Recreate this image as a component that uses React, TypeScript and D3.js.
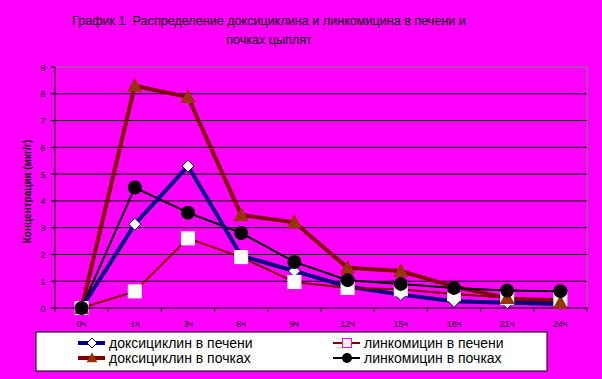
import React from "react";
import * as d3 from "d3";

const categories = ["0ч", "1ч", "3ч", "6ч", "9ч", "12ч", "15ч", "18ч", "21ч", "24ч"];
const doxyLiver = [0, 3.13, 5.3, 1.95, 1.38, 0.8, 0.5, 0.25, 0.2, 0.15];
const doxyKidney = [0, 8.3, 7.88, 3.47, 3.2, 1.5, 1.38, 0.8, 0.37, 0.2];
const lincoLiver = [0, 0.62, 2.6, 1.9, 0.97, 0.75, 0.7, 0.52, 0.38, 0.33];
const lincoKidney = [0, 4.5, 3.56, 2.8, 1.72, 1.04, 0.9, 0.75, 0.65, 0.63];
const yTicks = [0, 1, 2, 3, 4, 5, 6, 7, 8, 9];
const titleLines = ["График 1  Распределение доксициклина и линкомицина в печени и", "почках цыплят"];
const yTitle = "Концентрация (мкг/г)";
const legendNames = ["доксициклин в печени", "линкомицин в печени", "доксициклин в почках", "линкомицин в почках"];

export default function App() {
  const W = 602, H = 379;
  const left = 55, right = 587, top = 67, bottom = 308;
  const x = d3.scaleBand().domain(categories).range([left, right]);
  const y = d3.scaleLinear().domain([0, 9]).range([bottom, top]);
  const cx = (c: string) => (x(c) as number) + x.bandwidth() / 2;
  const line = (vals: number[]) =>
    d3.line<number>().x((_, i) => cx(categories[i])).y((v) => y(v))(vals) as string;
  const font = "Arial, 'Liberation Sans', sans-serif";

  const diamond = (px: number, py: number, key: string, s = 6) => (
    <path key={key} d={`M${px},${py - s}L${px + s},${py}L${px},${py + s}L${px - s},${py}Z`} fill="#fff" stroke="#000080" strokeWidth={1} />
  );
  const square = (px: number, py: number, key: string, stroke = "#fff", s = 6.5) => (
    <rect key={key} x={px - s} y={py - s} width={2 * s} height={2 * s} fill="#fff" stroke={stroke} strokeWidth={1} />
  );
  const triangle = (px: number, py: number, key: string, s = 1) => (
    <path key={key} d={`M${px},${py - 8 * s}L${px + 7.5 * s},${py + 6 * s}L${px - 7.5 * s},${py + 6 * s}Z`} fill="#993300" />
  );
  const circle = (px: number, py: number, key: string, r = 7) => (
    <circle key={key} cx={px} cy={py} r={r} fill="#000" />
  );

  return (
    <svg width={W} height={H} style={{ position: "absolute", left: 0, top: 0, display: "block" }}>
      <rect x={0} y={0} width={W} height={H} fill="#ff00ff" />
      {titleLines.map((t, i) => (
        <text key={t} x={269} y={25 + i * 19} textAnchor="middle" fontFamily={font} fontSize={12.6} fill="#000" style={{ whiteSpace: "pre" }}>{t}</text>
      ))}
      {/* gridlines */}
      {yTicks.slice(1).map((t) => (
        <line key={t} x1={left} x2={right} y1={y(t)} y2={y(t)} stroke={t === 9 ? "#808080" : "#000"} strokeWidth={1} />
      ))}
      <line x1={right} x2={right} y1={top} y2={bottom} stroke="#808080" />
      {/* axes */}
      <line x1={left} x2={left} y1={top} y2={bottom} stroke="#000" />
      <line x1={left} x2={right} y1={bottom} y2={bottom} stroke="#000" />
      {yTicks.map((t) => (
        <g key={t}>
          <line x1={left - 4} x2={left} y1={y(t)} y2={y(t)} stroke="#000" />
          <text x={43} y={y(t) + 3.5} textAnchor="middle" fontFamily={font} fontSize={9} fill="#000">{t}</text>
        </g>
      ))}
      {categories.map((c) => (
        <g key={c}>
          <line x1={(x(c) as number)} x2={(x(c) as number)} y1={bottom} y2={bottom + 4} stroke="#000" />
          <text x={cx(c)} y={327} textAnchor="middle" fontFamily={font} fontSize={9} fill="#000">{c}</text>
        </g>
      ))}
      <line x1={right} x2={right} y1={bottom} y2={bottom + 4} stroke="#000" />
      <text transform={`translate(31,${(top + bottom) / 2 + 4}) rotate(-90)`} textAnchor="middle" fontFamily={font} fontSize={10} fontWeight="bold" fill="#000">{yTitle}</text>

      {/* series lines */}
      <path d={line(doxyKidney)} fill="none" stroke="#800000" strokeWidth={4} />
      <path d={line(lincoKidney)} fill="none" stroke="#000" strokeWidth={2} />
      <path d={line(doxyLiver)} fill="none" stroke="#000080" strokeWidth={4} />
      <path d={line(lincoLiver)} fill="none" stroke="#800000" strokeWidth={2} />
      {/* markers */}
      {doxyLiver.map((v, i) => diamond(cx(categories[i]), y(v), "d" + i))}
      {lincoLiver.map((v, i) => square(cx(categories[i]), y(v), "s" + i))}
      {doxyKidney.map((v, i) => triangle(cx(categories[i]), y(v), "t" + i))}
      {lincoKidney.map((v, i) => circle(cx(categories[i]), y(v), "c" + i))}

      {/* legend */}
      <rect x={36} y={332} width={511} height={39} fill="#fff" stroke="#000" strokeWidth={1} />
      {[0, 1, 2, 3].map((k) => {
        const col = k % 2, row = Math.floor(k / 2);
        const lx = col === 0 ? 78 : 333;
        const ly = row === 0 ? 343 : 358;
        const mx = lx + 14;
        const colors = ["#000080", "#800000", "#800000", "#000"];
        return (
          <g key={k}>
            <line x1={lx} x2={lx + 27} y1={ly} y2={ly} stroke={colors[k]} strokeWidth={k === 0 || k === 2 ? 4 : 2} />
            {k === 0 && diamond(mx, ly, "ld", 5)}
            {k === 1 && square(mx, ly, "ls", "#ff00ff", 4.5)}
            {k === 2 && triangle(mx, ly, "lt", 0.72)}
            {k === 3 && circle(mx, ly, "lc", 5)}
            <text x={lx + 31} y={ly + 5} fontFamily={font} fontSize={14} fill="#000">{legendNames[k]}</text>
          </g>
        );
      })}
    </svg>
  );
}
